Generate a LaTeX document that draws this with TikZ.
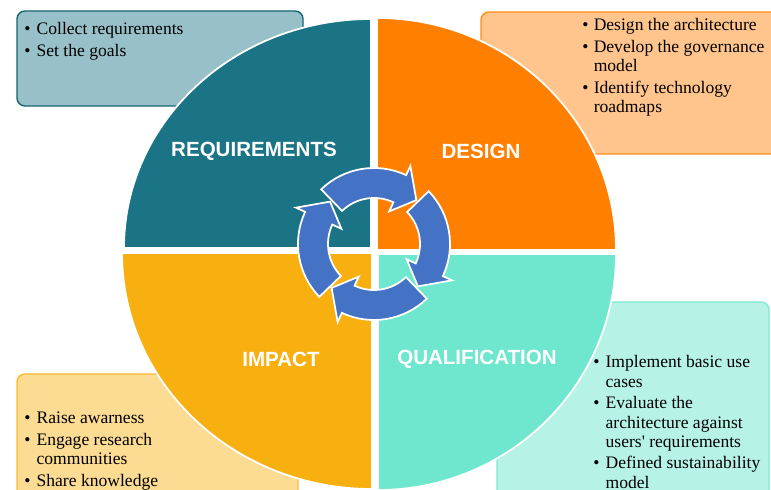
\documentclass[tikz,border=0pt]{standalone}
\usepackage{fontspec}
\setmainfont{Liberation Serif}
\newfontfamily\phasefont{Liberation Sans}
\usepackage{tikz}

\definecolor{reqteal}{HTML}{1A7485}
\definecolor{desorange}{HTML}{FF7F00}
\definecolor{impyellow}{HTML}{F8AF10}
\definecolor{qualmint}{HTML}{6EE7CE}
\definecolor{cycleblue}{HTML}{4472C4}

\begin{document}
\begin{tikzpicture}[
    x=0.02cm, y=0.02cm,
    quadrant/.style={draw=white,line width=1pt},
    notebox/.style={rounded corners=4.5pt,line width=0.8pt},
    notes/.style={anchor=base west,inner sep=0pt,font=\fontsize{10}{11}\selectfont},
    phase/.style={text=white,font=\phasefont\bfseries\fontsize{11.7}{12}\selectfont},
    cycle arrow/.style={fill=cycleblue,draw=white,line width=1pt}
    ]
    \useasboundingbox (0,0) rectangle (771,490);
    % boxes behind the wheel
    \draw [notebox,draw=reqteal!85!black,fill=reqteal!45!white] (17,384) rectangle (303,479);
    \draw [notebox,draw=desorange!90,fill=desorange!45!white] (481,336) rectangle (790,478);
    \draw [notebox,draw=impyellow!85,fill=impyellow!45!white] (17,-10) rectangle (298,116);
    \draw [notebox,draw=qualmint!90,fill=qualmint!50!white] (497,-10) rectangle (769,188);
    % wheel
    % requirements
    \draw [quadrant,fill=reqteal] (371,242) -- (124,242)
        arc[start angle=180,end angle=90,x radius=247,y radius=229] -- cycle;
    % design
    \draw [quadrant,fill=desorange] (377,240) -- (616,240)
        arc[start angle=0,end angle=90,x radius=239,y radius=232] -- cycle;
    % impact
    \draw [quadrant,fill=impyellow] (372,237) -- (122,237)
        arc[start angle=180,end angle=270,x radius=250,y radius=236] -- cycle;
    % qualification
    \draw [quadrant,fill=qualmint] (378,236) -- (616,236)
        arc[start angle=0,end angle=-90,x radius=238,y radius=236] -- cycle;
    % phase names
    \node [phase] (requirements) at (254,339) {REQUIREMENTS};
    \node [phase] (design) at (481,339) {DESIGN};
    \node [phase] (impact) at (281,131) {IMPACT};
    \node [phase] (qualification) at (477,131) {QUALIFICATION};
    % cycle arrows
    \begin{scope}[shift={(374,246)}]
    \foreach \c in {90,0,-90,-180} {
        \draw [cycle arrow] (\c+44:76) arc[start angle=\c+44,end angle=\c-25,radius=76]
            -- (\c-25:86) -- (\c-44:61) -- (\c-25:36) -- (\c-25:46)
            arc[start angle=\c-25,end angle=\c+44,radius=46] -- cycle;
    }
    \end{scope}
    % notes
    \node [notes] (reqnotes) at (24,455) {\begin{tabular}[t]{@{}p{7pt}@{}l@{}}
        \textbullet & Collect requirements\\[1.2pt]
        \textbullet & Set the goals
        \end{tabular}};
    \node [notes] (desnotes) at (582,459) {\begin{tabular}[t]{@{}p{6.5pt}@{}l@{}}
        \textbullet & Design the architecture\\[1.2pt]
        \textbullet & Develop the governance\\
        & model\\[1.2pt]
        \textbullet & Identify technology\\
        & roadmaps
        \end{tabular}};
    \node [notes] (impnotes) at (24,66) {\begin{tabular}[t]{@{}p{7pt}@{}l@{}}
        \textbullet & Raise awarness\\[1.2pt]
        \textbullet & Engage research\\
        & communities\\[1.2pt]
        \textbullet & Share knowledge
        \end{tabular}};
    \node [notes] (qualnotes) at (593,122) {\begin{tabular}[t]{@{}p{7pt}@{}l@{}}
        \textbullet & Implement basic use\\
        & cases\\[1.2pt]
        \textbullet & Evaluate the\\
        & architecture against\\
        & users\textquotesingle\ requirements\\[1.2pt]
        \textbullet & Defined sustainability\\
        & model
        \end{tabular}};
\end{tikzpicture}
\end{document}
